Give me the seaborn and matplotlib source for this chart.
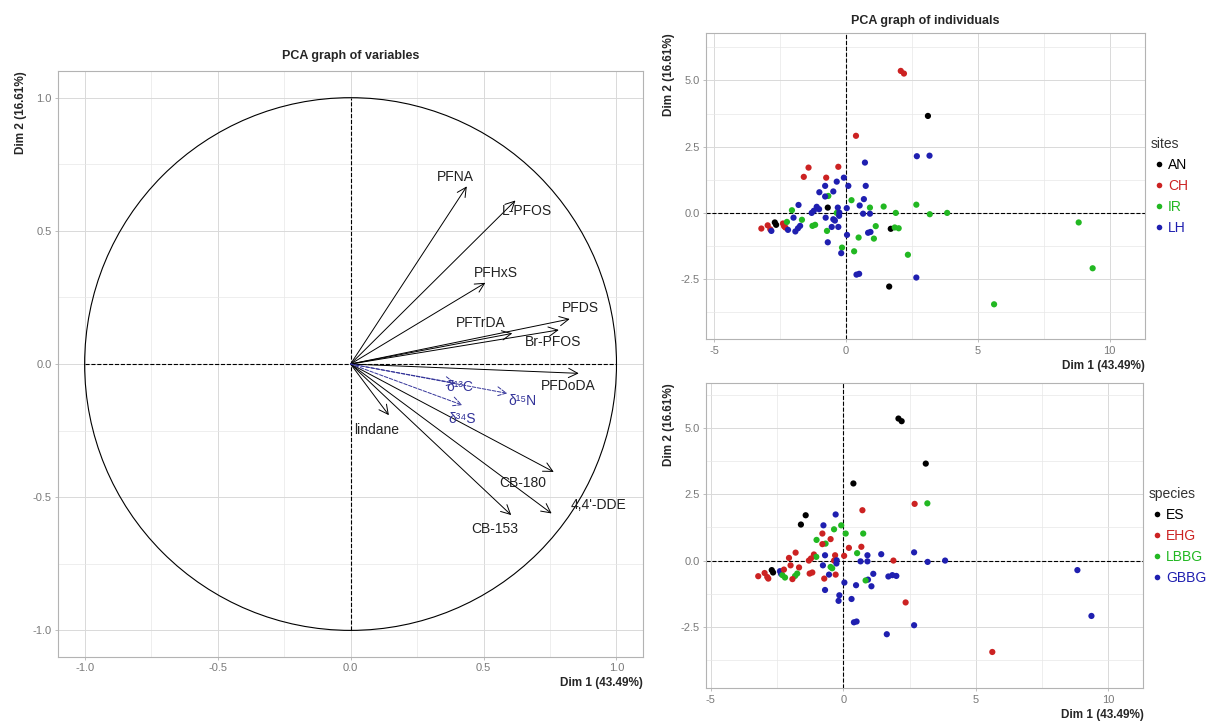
"""
PCA graph of variables (correlation circle) and two PCA individual maps.
"""

import matplotlib

matplotlib.use("Agg")
import matplotlib.pyplot as plt
import pandas as pd
import seaborn as sns
from matplotlib.patches import Circle
from matplotlib.ticker import MultipleLocator, FormatStrFormatter

# --- variables (active) ---
var_names = ["PFNA", "L-PFOS", "PFHxS", "PFDS", "Br-PFOS", "PFTrDA", "PFDoDA",
             "lindane", "CB-180", "4,4'-DDE", "CB-153"]
var_dim1 = [0.437, 0.620, 0.507, 0.824, 0.783, 0.608, 0.858, 0.144, 0.764, 0.756, 0.604]
var_dim2 = [0.667, 0.614, 0.305, 0.169, 0.128, 0.115, -0.035, -0.192, -0.405, -0.561, -0.567]

# --- supplementary variables (stable isotopes) ---
sup_names = ["δ¹³C", "δ¹⁵N", "δ³⁴S"]
sup_dim1 = [0.395, 0.589, 0.420]
sup_dim2 = [-0.072, -0.110, -0.154]

# --- individuals ---
ind_dim1 = [
    2.08, 2.20, 0.38, -1.42, -0.29, -1.60, -0.75, -3.21, -2.97, -2.87, -2.39, -2.35, -2.30,
    3.11, -0.69, -2.70, -2.65, 1.70, 1.64,
    8.83, 9.36, 5.62, 2.35, 0.31, -0.15, 1.06, 0.48, 1.13, 1.85, 2.00, 1.89, 1.43, 2.67,
    3.18, 3.84, 0.91, 0.21, -0.67, -2.05, -1.67, -2.24, -1.27, -1.17, -0.72, -0.35,
    2.69, 3.17, 0.72, -0.08, -0.35, 0.09, 0.75, -0.79, -1.01, -0.48, -0.79, 0.68, 0.52,
    0.03, -0.31, -1.80, -1.11, -1.02, -1.30, -1.22, -0.25, -0.26, 0.65, 0.91, -1.99,
    -0.77, -0.48, -0.42, -0.54, -0.29, -1.74, -1.82, -1.92, -2.20, -2.83, 0.04, 0.93,
    0.84, -0.69, -0.18, 0.40, 0.50, 2.67,
]
ind_dim2 = [
    5.36, 5.26, 2.91, 1.71, 1.74, 1.36, 1.33, -0.59, -0.47, -0.62, -0.40, -0.50, -0.55,
    3.66, 0.20, -0.36, -0.45, -0.60, -2.78,
    -0.36, -2.09, -3.45, -1.58, -1.45, -1.31, -0.97, -0.93, -0.50, -0.55, -0.58, 0.00, 0.24, 0.31,
    -0.05, 0.00, 0.20, 0.48, 0.64, 0.10, -0.26, -0.34, -0.49, -0.45, -0.68, 0.00,
    2.14, 2.16, 1.90, 1.33, 1.18, 1.02, 1.02, 1.02, 0.78, 0.81, 0.62, 0.52, 0.28,
    0.18, 0.20, 0.30, 0.23, 0.14, 0.00, 0.08, 0.01, -0.11, -0.03, -0.03, -0.18,
    -0.18, -0.24, -0.29, -0.53, -0.53, -0.49, -0.58, -0.70, -0.64, -0.68, -0.83, -0.72,
    -0.75, -1.11, -1.52, -2.33, -2.30, -2.44,
]
ind_site = ["CH"] * 13 + ["AN"] * 6 + ["IR"] * 26 + ["LH"] * 43
ind_species = [
    "ES", "ES", "ES", "ES", "GBBG", "ES", "GBBG", "EHG", "EHG", "EHG", "GBBG", "GBBG", "LBBG",
    "ES", "GBBG", "ES", "ES", "GBBG", "GBBG",
    "GBBG", "GBBG", "EHG", "EHG", "GBBG", "GBBG", "GBBG", "GBBG", "GBBG", "GBBG", "GBBG",
    "EHG", "GBBG", "GBBG", "GBBG", "GBBG", "GBBG", "EHG", "LBBG", "EHG", "EHG", "EHG",
    "EHG", "EHG", "EHG", "EHG",
    "EHG", "LBBG", "EHG", "LBBG", "LBBG", "LBBG", "LBBG", "EHG", "LBBG", "EHG", "EHG",
    "EHG", "LBBG", "EHG", "EHG", "EHG", "EHG", "LBBG", "EHG", "EHG", "GBBG", "GBBG",
    "GBBG", "GBBG", "EHG", "GBBG", "LBBG", "LBBG", "GBBG", "EHG", "LBBG", "LBBG", "EHG",
    "LBBG", "EHG", "GBBG", "GBBG", "LBBG", "GBBG", "GBBG", "GBBG", "GBBG", "GBBG",
]

site_order = ["AN", "CH", "IR", "LH"]
species_order = ["ES", "EHG", "LBBG", "GBBG"]

DIM1_LABEL = "Dim 1 (43.49%)"
DIM2_LABEL = "Dim 2 (16.61%)"

# label offsets (data units) from the arrow tip
LABEL_OFFSET = {
    "PFNA": (-0.043, 0.036), "L-PFOS": (0.042, -0.041), "PFHxS": (0.038, 0.038),
    "PFDS": (0.041, 0.040), "Br-PFOS": (-0.021, -0.044), "PFTrDA": (-0.119, 0.038),
    "PFDoDA": (-0.041, -0.048), "lindane": (-0.046, -0.054), "CB-180": (-0.115, -0.041),
    "4,4'-DDE": (0.178, 0.031), "CB-153": (-0.062, -0.051),
    "δ¹³C": (0.017, -0.014), "δ¹⁵N": (0.056, -0.028), "δ³⁴S": (0.0, -0.054),
}

COLORS = ["black", "#cc2222", "#22b822", "#1f1fb0"]
SUP_COLOR = "#333399"
GREY_TEXT = "#7a7a7a"
BORDER = "#b3b3b3"


def style_axes(ax, major, minor, fmt):
    ax.xaxis.set_major_locator(MultipleLocator(major[0]))
    ax.yaxis.set_major_locator(MultipleLocator(major[1]))
    ax.xaxis.set_minor_locator(MultipleLocator(minor[0]))
    ax.yaxis.set_minor_locator(MultipleLocator(minor[1]))
    ax.xaxis.set_major_formatter(FormatStrFormatter(fmt[0]))
    ax.yaxis.set_major_formatter(FormatStrFormatter(fmt[1]))
    ax.grid(which="major", color="#d9d9d9", linewidth=0.7)
    ax.grid(which="minor", color="#e8e8e8", linewidth=0.5)
    ax.set_axisbelow(True)
    ax.tick_params(which="major", length=2.5, width=0.6, color=BORDER,
                   labelcolor=GREY_TEXT, labelsize=8, pad=2, bottom=True, left=True)
    ax.tick_params(which="minor", length=0)
    for sp in ax.spines.values():
        sp.set_color(BORDER)
        sp.set_linewidth(0.8)
    ax.set_xlabel(DIM1_LABEL, loc="right", fontsize=8.5, fontweight="bold", labelpad=3)
    ax.set_ylabel(DIM2_LABEL, loc="top", fontsize=8.5, fontweight="bold", labelpad=4)


def draw_variables(ax):
    ax.set_xlim(-1.10, 1.10)
    ax.set_ylim(-1.10, 1.10)
    style_axes(ax, (0.5, 0.5), (0.25, 0.25), ("%.1f", "%.1f"))
    ax.add_patch(Circle((0, 0), 1.0, fill=False, color="black", linewidth=0.8))
    ax.plot([-1, 1], [0, 0], linestyle="--", color="black", linewidth=0.8)
    ax.plot([0, 0], [-1, 1], linestyle="--", color="black", linewidth=0.8)

    groups = [
        (var_names, var_dim1, var_dim2, "black", "-"),
        (sup_names, sup_dim1, sup_dim2, SUP_COLOR, "--"),
    ]
    for names, xs, ys, color, ls in groups:
        for name, x, y in zip(names, xs, ys):
            ax.annotate(
                "", xy=(x, y), xytext=(0, 0),
                arrowprops=dict(arrowstyle="->,head_length=0.55,head_width=0.28",
                                color=color, linewidth=0.7, linestyle=ls,
                                shrinkA=0, shrinkB=0),
            )
            dx, dy = LABEL_OFFSET[name]
            ax.text(x + dx, y + dy, name, ha="center", va="center",
                    fontsize=10, color=color if color != "black" else "#222222")
    ax.set_title("PCA graph of variables", fontsize=9, fontweight="bold", pad=9)


def draw_individuals(ax, df, hue, order, xlim, ylim, title=None):
    sns.scatterplot(data=df, x="dim1", y="dim2", hue=hue, hue_order=order,
                    palette=COLORS, s=20, linewidth=0, ax=ax, zorder=3)
    ax.axhline(0, linestyle="--", color="black", linewidth=0.8, zorder=2)
    ax.axvline(0, linestyle="--", color="black", linewidth=0.8, zorder=2)
    ax.set_xlim(*xlim)
    ax.set_ylim(*ylim)
    style_axes(ax, (5, 2.5), (2.5, 1.25), ("%d", "%.1f"))
    sns.move_legend(ax, "center left", bbox_to_anchor=(1.0, 0.5), frameon=False,
                    title=hue, fontsize=10, title_fontsize=10, markerscale=0.9,
                    handletextpad=0.05, handlelength=1.2, labelspacing=0.5,
                    borderaxespad=0.0, alignment="left")
    leg = ax.get_legend()
    for text, color in zip(leg.get_texts(), COLORS):
        text.set_color(color)
    leg.get_title().set_color("#333333")
    if title:
        ax.set_title(title, fontsize=9, fontweight="bold", pad=7)


def main():
    sns.set_theme(style="whitegrid")
    plt.rcParams["font.family"] = ["Liberation Sans", "DejaVu Sans"]
    plt.rcParams["axes.unicode_minus"] = False

    df = pd.DataFrame({"dim1": ind_dim1, "dim2": ind_dim2,
                       "sites": ind_site, "species": ind_species})

    fig = plt.figure(figsize=(12.12, 7.22), dpi=100)
    ax_var = fig.add_axes([0.0479, 0.0900, 0.4827, 0.8116])
    ax_top = fig.add_axes([0.5823, 0.5301, 0.3625, 0.4238])
    ax_bot = fig.add_axes([0.5823, 0.0467, 0.3611, 0.4224])

    draw_variables(ax_var)
    draw_individuals(ax_top, df, "sites", site_order, (-5.32, 11.35), (-4.77, 6.78),
                     title="PCA graph of individuals")
    draw_individuals(ax_bot, df, "species", species_order, (-5.19, 11.32), (-4.82, 6.69))

    fig.savefig("out.png", dpi=100, facecolor="white")
    plt.close(fig)


if __name__ == "__main__":
    main()
